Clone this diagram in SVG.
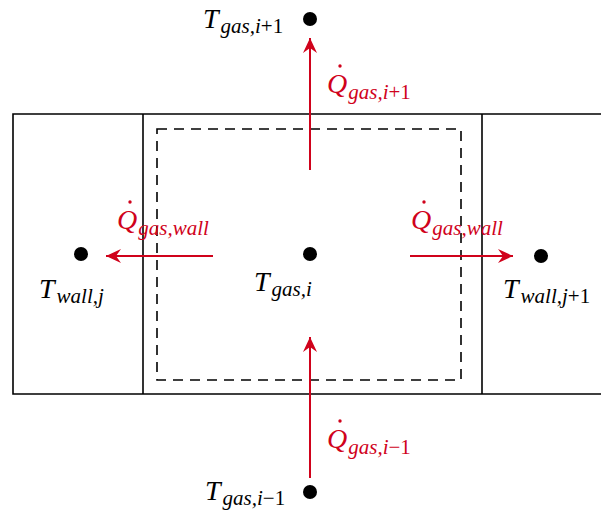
<svg xmlns="http://www.w3.org/2000/svg" width="601" height="516" viewBox="0 0 601 516">
<style>
.ln{stroke:#000;stroke-width:1.6;fill:none}
.dash{stroke:#000;stroke-width:1.6;fill:none;stroke-dasharray:10,7}
.arr{stroke:#d0021b;stroke-width:2;fill:none}
.dot{fill:#000}
.t{font-family:"Liberation Serif","DejaVu Serif",serif;font-style:italic;font-size:28px;fill:#000}
.q{font-family:"Liberation Serif","DejaVu Serif",serif;font-style:italic;font-size:28px;fill:#d0021b}
.s{font-size:21px}
.u{font-style:normal}
.qd{fill:#d0021b}
</style>
<defs>
<marker id="ah" markerUnits="userSpaceOnUse" markerWidth="20" markerHeight="16" viewBox="-16 -8 18 16" refX="0" refY="0" orient="auto">
<path d="M0,0 L-15,-7 L-10,0 L-15,7 Z" fill="#d0021b"/>
</marker>
</defs>
<g id="structure">
<path class="ln" d="M601,114 H13 V394 H601"/>
<line class="ln" x1="143" y1="114" x2="143" y2="394"/>
<line class="ln" x1="482" y1="114" x2="482" y2="394"/>
<rect class="dash" x="157" y="129" width="304" height="251"/>
</g>
<g id="connectors">
<line class="arr" x1="310" y1="170" x2="310" y2="38" marker-end="url(#ah)"/>
<line class="arr" x1="310" y1="478" x2="310" y2="337" marker-end="url(#ah)"/>
<line class="arr" x1="213" y1="256" x2="106" y2="256" marker-end="url(#ah)"/>
<line class="arr" x1="410" y1="256" x2="513" y2="256" marker-end="url(#ah)"/>
</g>
<g id="node-gas-i-plus-1">
<circle class="dot" cx="310" cy="19" r="7"/>
<text class="t" x="203" y="28">T<tspan class="s" dx="2" dy="5">gas,i<tspan class="u">+1</tspan></tspan></text>
</g>
<g id="node-gas-i">
<circle class="dot" cx="310" cy="254" r="7"/>
<text class="t" x="254" y="291">T<tspan class="s" dx="2" dy="5">gas,i</tspan></text>
</g>
<g id="node-wall-j">
<circle class="dot" cx="81" cy="254" r="7"/>
<text class="t" x="39" y="298">T<tspan class="s" dx="2" dy="5">wall,j</tspan></text>
</g>
<g id="node-wall-j-plus-1">
<circle class="dot" cx="541" cy="256" r="7"/>
<text class="t" x="503" y="298">T<tspan class="s" dx="2" dy="5">wall,j<tspan class="u">+1</tspan></tspan></text>
</g>
<g id="node-gas-i-minus-1">
<circle class="dot" cx="310" cy="492" r="7"/>
<text class="t" x="205" y="500">T<tspan class="s" dx="2" dy="5">gas,i<tspan class="u">−1</tspan></tspan></text>
</g>
<g id="labels">
<circle class="qd" cx="340" cy="66" r="1.7"/>
<text class="q" x="327" y="93">Q<tspan class="s" dx="1" dy="6">gas,i<tspan class="u">+1</tspan></tspan></text>
<circle class="qd" cx="340" cy="421" r="1.7"/>
<text class="q" x="327" y="448">Q<tspan class="s" dx="1" dy="6">gas,i<tspan class="u">−1</tspan></tspan></text>
<circle class="qd" cx="130" cy="202" r="1.7"/>
<text class="q" x="117" y="229">Q<tspan class="s" dx="1" dy="6">gas,wall</tspan></text>
<circle class="qd" cx="424" cy="202" r="1.7"/>
<text class="q" x="411" y="229">Q<tspan class="s" dx="1" dy="6">gas,wall</tspan></text>
</g>
</svg>
